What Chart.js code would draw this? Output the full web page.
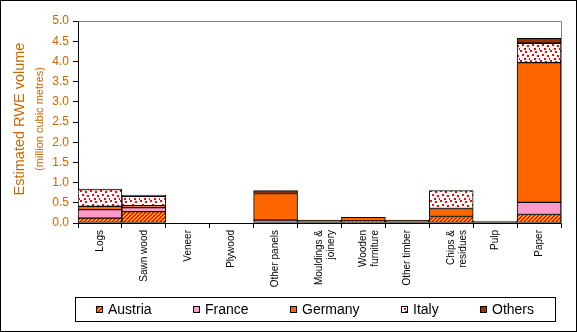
<!DOCTYPE html>
<html>
<head>
<meta charset="utf-8">
<script src="https://cdn.jsdelivr.net/npm/chart.js@4/dist/chart.umd.min.js"></script>
<style>
html,body{margin:0;padding:0;background:#fff;}
#wrap{width:577px;height:332px;position:relative;}
</style>
</head>
<body>
<div id="wrap"><canvas id="c" width="577" height="332"></canvas></div>
<script>
// ---- data ----
const categories = ["Logs", "Sawn wood", "Veneer", "Plywood", "Other panels", ["Mouldings &", "joinery"], ["Wooden", "furniture"], "Other timber", ["Chips &", "residues"], "Pulp", "Paper"];
const seriesNames = ["Austria", "France", "Germany", "Italy", "Others"];
const austria = [0.12, 0.28, 0, 0, 0, 0, 0.05, 0, 0.16, 0, 0.21];
const france  = [0.21, 0.10, 0, 0, 0.07, 0, 0, 0, 0, 0, 0.30];
const germany = [0.08, 0.05, 0, 0, 0.66, 0.06, 0.09, 0.06, 0.20, 0.05, 3.46];
const italy   = [0.42, 0.23, 0, 0, 0, 0, 0, 0, 0.44, 0, 0.48];
const others  = [0.01, 0.03, 0, 0, 0.07, 0.01, 0, 0.01, 0, 0, 0.12];
const yTicks = [0, 0.5, 1.0, 1.5, 2.0, 2.5, 3.0, 3.5, 4.0, 4.5, 5.0];
const yTitle = "Estimated RWE volume";
const ySubTitle = "(million cubic metres)";

const FONT = "'Liberation Sans', Arial, sans-serif";
const TXT = '#CC6600';

// ---- patterns ----
function stripePattern() {
  const t = document.createElement('canvas'); t.width = 4; t.height = 4;
  const g = t.getContext('2d');
  g.fillStyle = '#FF0000'; g.fillRect(0, 0, 4, 4);
  g.strokeStyle = '#FFFF00'; g.lineWidth = 1.2;
  g.beginPath();
  g.moveTo(-1, 5); g.lineTo(5, -1);
  g.moveTo(-1, 1); g.lineTo(1, -1);
  g.moveTo(3, 5); g.lineTo(5, 3);
  g.stroke();
  return g.createPattern(t, 'repeat');
}
function dotPattern() {
  const t = document.createElement('canvas'); t.width = 10; t.height = 10;
  const g = t.getContext('2d');
  g.fillStyle = '#FFFFFF'; g.fillRect(0, 0, 10, 10);
  g.fillStyle = '#FF0000';
  [[0,0],[5,1],[2,4],[7,5],[4,8],[9,8]].forEach(p => g.fillRect(p[0], p[1], 2, 2));
  return g.createPattern(t, 'repeat');
}
const fills = [stripePattern(), '#FF99CC', '#FF6600', dotPattern(), '#993300'];
const values = [austria, france, germany, italy, others];

const datasets = seriesNames.map((n, i) => ({
  label: n,
  data: values[i].map(v => v === 0 ? null : v),
  backgroundColor: fills[i],
  borderColor: '#000000',
  borderWidth: 1,
  borderSkipped: false,
  barPercentage: 1.0,
  categoryPercentage: 1.0
}));

const decor = {
  id: 'decor',
  beforeDraw(chart) {
    const ctx = chart.ctx;
    ctx.save();
    ctx.fillStyle = '#fff';
    ctx.fillRect(0, 0, chart.width, chart.height);
    ctx.restore();
  },
  beforeDatasetsDraw(chart) {
    const ctx = chart.ctx, a = chart.chartArea;
    ctx.save();
    ctx.strokeStyle = '#808080'; ctx.lineWidth = 1;
    ctx.beginPath();
    ctx.moveTo(Math.round(a.left) + 0.5, Math.round(a.top) + 0.5);
    ctx.lineTo(Math.round(a.right) + 0.5, Math.round(a.top) + 0.5);
    ctx.lineTo(Math.round(a.right) + 0.5, Math.round(a.bottom) + 0.5);
    ctx.stroke();
    ctx.restore();
  },
  afterDraw(chart) {
    const ctx = chart.ctx, a = chart.chartArea;
    ctx.save();
    // outer border
    ctx.strokeStyle = '#000'; ctx.lineWidth = 1;
    ctx.strokeRect(0.5, 0.5, chart.width - 1, chart.height - 1);
    // y axis titles
    const cy = (a.top + a.bottom) / 2 - 3;
    ctx.fillStyle = TXT;
    ctx.textAlign = 'center'; ctx.textBaseline = 'middle';
    ctx.translate(20, cy); ctx.rotate(-Math.PI / 2);
    ctx.font = '14.5px ' + FONT;
    ctx.fillText(yTitle, 0, 0);
    ctx.font = '11px ' + FONT;
    ctx.fillText(ySubTitle, 0, 19.5);
    ctx.restore();
    // legend
    ctx.save();
    const lx = 75, ly = 297, lw = 480, lh = 24;
    ctx.strokeStyle = '#000'; ctx.lineWidth = 1;
    ctx.strokeRect(lx + 0.5, ly + 0.5, lw, lh);
    ctx.font = '14px ' + FONT;
    const ds = chart.data.datasets;
    const widths = ds.map(d => 7 + 5 + ctx.measureText(d.label).width);
    const total = widths.reduce((s, w) => s + w, 0);
    const gap = (lw - total) / ds.length;
    let x = lx + gap / 2;
    const my = ly + lh / 2 + 0.5;
    ds.forEach((d, i) => {
      const bx = Math.round(x), by = Math.round(my - 3.5);
      ctx.fillStyle = d.backgroundColor;
      ctx.fillRect(bx, by, 7, 7);
      ctx.strokeStyle = '#000';
      ctx.strokeRect(bx + 0.5, by + 0.5, 6, 6);
      ctx.fillStyle = '#000';
      ctx.textAlign = 'left'; ctx.textBaseline = 'middle';
      ctx.fillText(d.label, bx + 12, my + 0.5);
      x += widths[i] + gap;
    });
    ctx.restore();
  }
};

new Chart(document.getElementById('c'), {
  type: 'bar',
  data: { labels: categories, datasets: datasets },
  options: {
    responsive: false,
    animation: false,
    devicePixelRatio: 1,
    layout: { padding: { left: 0, top: 21, right: 16, bottom: 0 } },
    plugins: { legend: { display: false }, tooltip: { enabled: false } },
    scales: {
      x: {
        stacked: true,
        grid: { display: true, offset: true, drawOnChartArea: false, drawTicks: true, tickLength: 5, tickColor: '#000' },
        border: { display: true, color: '#000', width: 1 },
        ticks: { color: '#000', font: { family: FONT, size: 10 }, minRotation: 90, maxRotation: 90, padding: 2, autoSkip: false },
        afterFit(s) { s.height = 109; }
      },
      y: {
        stacked: true,
        min: 0, max: 5,
        afterBuildTicks(s) { s.ticks = yTicks.map(v => ({ value: v })); },
        grid: { display: true, drawOnChartArea: false, drawTicks: true, tickLength: 5, tickColor: '#000' },
        border: { display: true, color: '#000', width: 1 },
        ticks: { color: TXT, font: { family: FONT, size: 12 }, padding: 4, callback: v => Number(v).toFixed(1) },
        afterFit(s) { s.width = 78; }
      }
    }
  },
  plugins: [decor]
});
</script>
</body>
</html>
